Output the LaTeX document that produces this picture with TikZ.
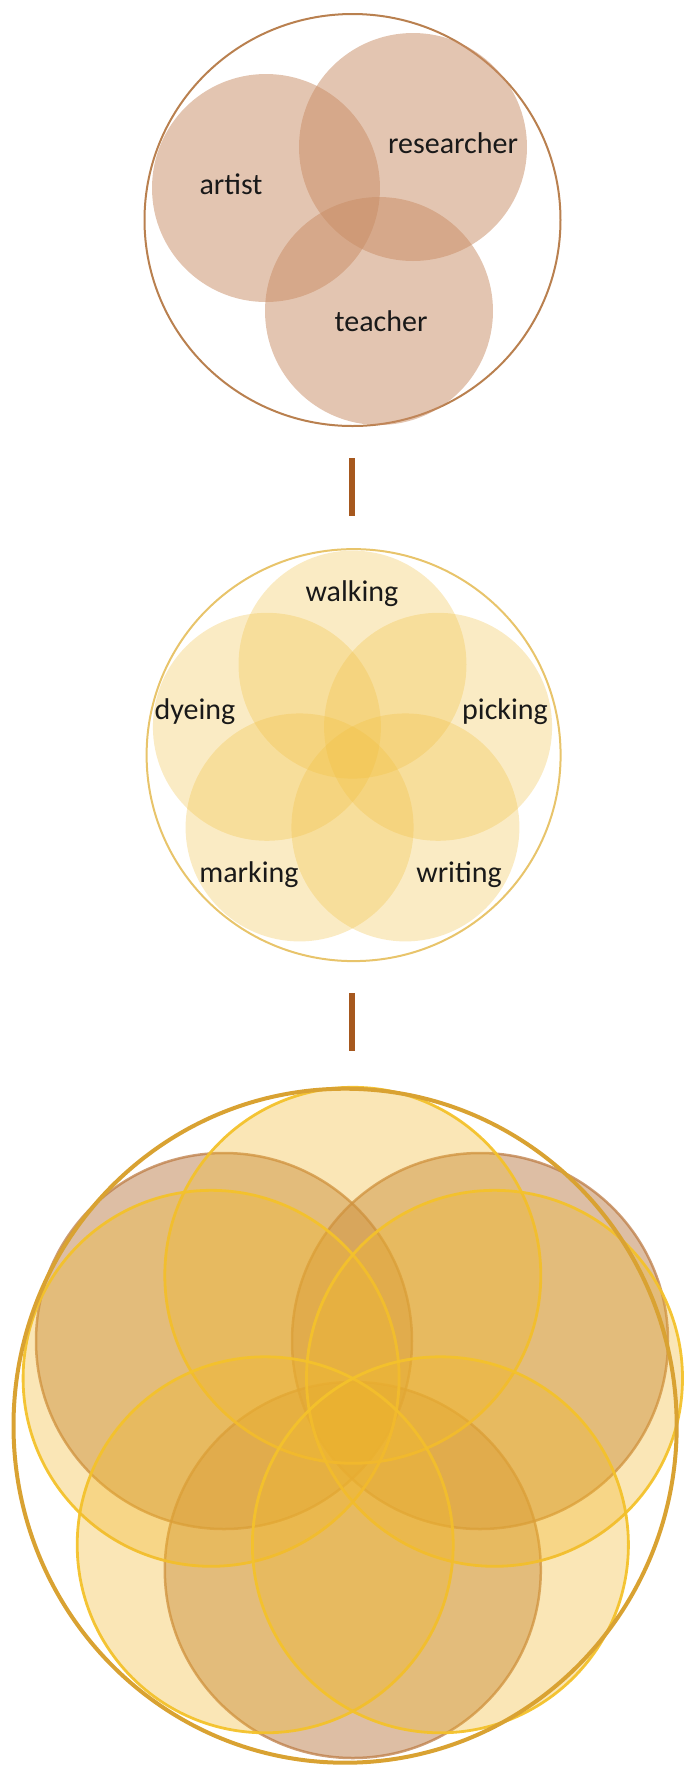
\documentclass[tikz,border=0pt]{standalone}
\usepackage{fontspec}
\setmainfont{Carlito}
\usepackage{tikz}
\definecolor{rolebrown}{RGB}{200,140,100}
\definecolor{rolerim}{RGB}{185,128,79}
\definecolor{linkbrown}{RGB}{166,88,30}
\definecolor{actyellow}{RGB}{240,190,60}
\definecolor{actrim}{RGB}{232,196,107}
\definecolor{mixbrown}{RGB}{187,125,73}
\definecolor{mixbrownrim}{RGB}{190,125,70}
\definecolor{mixyellow}{RGB}{241,184,46}
\definecolor{mixyellowrim}{RGB}{244,194,43}
\definecolor{mixrim}{RGB}{217,162,50}

\begin{document}
\begin{tikzpicture}[x=0.5pt, y=-0.5pt,
    role/.style={fill=rolebrown, fill opacity=0.5},
    act/.style={fill=actyellow, fill opacity=0.3},
    mixrole/.style={fill=mixbrown, fill opacity=0.5, draw=mixbrownrim, draw opacity=0.75, line width=1.25pt},
    mixact/.style={fill=mixyellow, fill opacity=0.35, draw=mixyellowrim, draw opacity=0.95, line width=1.4pt},
    txt/.style={font=\fontsize{15}{18}\selectfont, text=black!90},
    link/.style={linkbrown, line width=2.65pt}]
    \useasboundingbox (0,0) rectangle (688,1769);

    % Roles: artist, researcher, teacher
    \draw[rolerim, line width=1pt] (352.5,220) ellipse [x radius=208, y radius=206];
    \fill[role] (266,188) circle [radius=114];
    \fill[role] (413,147) circle [radius=114];
    \fill[role] (379,311) circle [radius=114];
    \node[txt] (artist) at (231,184) {artist};
    \node[txt] (researcher) at (453,143) {researcher};
    \node[txt] (teacher) at (381,321) {teacher};

    % Link 1
    \coordinate (linkAtop) at (352,458);
    \coordinate (linkAbot) at (352,516);
    \draw[link] (linkAtop) -- (linkAbot);

    % Activities: five petals
    \draw[actrim, line width=1pt] (353.6,755.1) ellipse [x radius=207, y radius=206];
    \fill[act] (352.5,664.6) circle [radius=114];
    \fill[act] (266.9,726.8) circle [radius=114];
    \fill[act] (438.1,726.8) circle [radius=114];
    \fill[act] (299.6,827.4) circle [radius=114];
    \fill[act] (405.4,827.4) circle [radius=114];
    \node[txt] (walking) at (352,594) {walking};
    \node[txt] (dyeing) at (195,712) {dyeing};
    \node[txt] (picking) at (505,712) {picking};
    \node[txt] (marking) at (249,875) {marking};
    \node[txt] (writing) at (459,875) {writing};

    % Link 2
    \coordinate (linkBtop) at (352,993);
    \coordinate (linkBbot) at (352,1051);
    \draw[link] (linkBtop) -- (linkBbot);

    % Roles and activities together
    \filldraw[mixrole] (224,1341) circle [radius=188];
    \filldraw[mixrole] (480,1341) circle [radius=188];
    \filldraw[mixrole] (352.8,1570) circle [radius=188];
    \filldraw[mixact] (352.8,1275.3) circle [radius=188];
    \filldraw[mixact] (211.1,1378.3) circle [radius=188];
    \filldraw[mixact] (494.5,1378.3) circle [radius=188];
    \filldraw[mixact] (265.2,1544.8) circle [radius=188];
    \filldraw[mixact] (440.4,1544.8) circle [radius=188];
    \draw[mixrim, line width=2pt] (345.1,1425.7) ellipse [x radius=331.6, y radius=337];
\end{tikzpicture}
\end{document}
